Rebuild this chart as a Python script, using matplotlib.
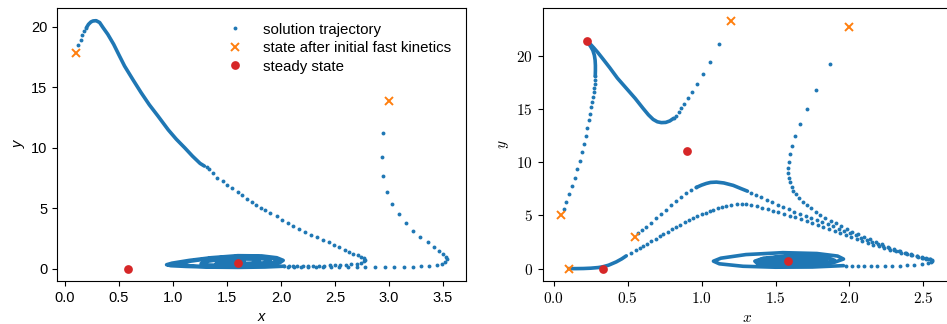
import matplotlib
matplotlib.use("Agg")
import matplotlib.pyplot as plt
from matplotlib.ticker import FuncFormatter

plt.rcParams['font.family'] = ['Liberation Sans', 'DejaVu Sans']
plt.rcParams['mathtext.fontset'] = 'cm'

BLUE = '#1f77b4'
ORANGE = '#ff7f0e'
RED = '#d62728'

# ---------------- left panel ----------------
# trajectory 1 (starts near x=0.1, y=17.8)
l1_start_x = [0.124, 0.143, 0.161, 0.18, 0.198]
l1_start_y = [18.46, 18.9, 19.32, 19.65, 19.92]
l1_dense_x = [0.198, 0.217, 0.24, 0.26, 0.288, 0.32, 0.35, 0.396, 0.45, 0.5, 0.551,
              0.63, 0.705, 0.78, 0.86, 0.955, 1.03, 1.108, 1.18, 1.25, 1.29]
l1_dense_y = [19.92, 20.2, 20.4, 20.48, 20.5, 20.35, 19.95, 19.37, 18.55, 17.65, 16.75,
              15.6, 14.54, 13.55, 12.62, 11.48, 10.7, 9.99, 9.3, 8.7, 8.48]
l1_mid_x = [1.31, 1.33, 1.37, 1.41, 1.46, 1.50, 1.55, 1.60, 1.64, 1.68, 1.73, 1.77, 1.81, 1.85,
            1.90, 1.96, 2.01, 2.06, 2.11, 2.17, 2.22, 2.28, 2.33, 2.39, 2.44, 2.49, 2.54,
            2.59, 2.63, 2.67, 2.71, 2.74, 2.765, 2.775, 2.765, 2.74, 2.70, 2.65]
l1_mid_y = [8.38, 8.23, 7.88, 7.53, 7.22, 6.93, 6.64, 6.35, 6.06, 5.77, 5.52, 5.27, 5.05, 4.83,
            4.57, 4.31, 4.06, 3.81, 3.55, 3.29, 3.04, 2.79, 2.58, 2.38, 2.17, 1.96, 1.76,
            1.57, 1.40, 1.24, 1.10, 0.97, 0.84, 0.72, 0.60, 0.50, 0.41, 0.35]
l1_back_x = [2.60, 2.55, 2.50, 2.45, 2.40, 2.35, 2.30, 2.25, 2.20, 2.15, 2.11, 2.07, 2.03]
l1_back_y = [0.31, 0.29, 0.27, 0.26, 0.25, 0.24, 0.23, 0.22, 0.21, 0.21, 0.2, 0.2, 0.2]
l_spiral_x = [2.03, 1.85, 1.6, 1.35, 1.12, 0.98, 0.94, 0.99, 1.15, 1.35, 1.6, 1.82, 1.96,
              2.02, 1.99, 1.88, 1.7, 1.45, 1.22, 1.08, 1.06, 1.15, 1.35, 1.6, 1.8, 1.93,
              1.97, 1.92, 1.78, 1.55, 1.32, 1.26, 1.33, 1.5, 1.7, 1.86, 1.90, 1.82, 1.65,
              1.45, 1.40, 1.48, 1.62, 1.76, 1.80, 1.72, 1.58, 1.5, 1.55, 1.63, 1.66, 1.6]
l_spiral_y = [0.2, 0.13, 0.1, 0.12, 0.18, 0.24, 0.32, 0.45, 0.68, 0.9, 1.07, 1.05, 0.9,
              0.68, 0.5, 0.33, 0.2, 0.16, 0.2, 0.28, 0.38, 0.6, 0.85, 1.0, 0.98, 0.82,
              0.64, 0.47, 0.32, 0.24, 0.3, 0.42, 0.62, 0.84, 0.93, 0.78, 0.6, 0.45, 0.34,
              0.33, 0.45, 0.62, 0.8, 0.78, 0.6, 0.45, 0.4, 0.5, 0.65, 0.68, 0.55, 0.5]
# trajectory 2 (starts near x=3.0, y=13.9)
l2_x = [2.944, 2.935, 2.947, 2.981, 3.028, 3.089, 3.154, 3.222, 3.29, 3.358, 3.414, 3.464,
        3.50, 3.525, 3.538, 3.52, 3.49, 3.44, 3.37, 3.30, 3.22, 3.14, 3.05, 2.96, 2.87,
        2.78, 2.70, 2.62, 2.54, 2.46, 2.39, 2.32, 2.25, 2.18, 2.12, 2.06]
l2_y = [11.21, 9.22, 7.67, 6.37, 5.38, 4.5, 3.78, 3.15, 2.62, 2.18, 1.8, 1.49,
        1.22, 0.99, 0.78, 0.53, 0.39, 0.31, 0.24, 0.2, 0.17, 0.15, 0.14, 0.13, 0.12,
        0.12, 0.11, 0.11, 0.1, 0.1, 0.1, 0.1, 0.1, 0.1, 0.11, 0.12]
l_fast_x = [0.1, 3.0]
l_fast_y = [17.85, 13.9]
l_steady_x = [0.58, 1.6]
l_steady_y = [0.0, 0.5]

# ---------------- right panel ----------------
ra_x = [0.066, 0.083, 0.104, 0.122, 0.14, 0.158, 0.174, 0.19, 0.203, 0.214, 0.226, 0.235,
        0.244, 0.25, 0.257, 0.264, 0.269, 0.273, 0.275, 0.278, 0.28]
ra_y = [5.59, 6.28, 7.0, 7.78, 8.54, 9.35, 10.14, 10.95, 11.74, 12.49, 13.24, 13.96,
        14.56, 15.16, 15.69, 16.16, 16.63, 17.0, 17.39, 17.77, 18.08]
ra_dense_x = [0.28, 0.281, 0.281, 0.279, 0.274, 0.264, 0.25, 0.235, 0.225]
ra_dense_y = [18.08, 18.6, 19.1, 19.6, 20.05, 20.5, 20.85, 21.15, 21.35]

rb_x = [1.117, 1.056, 1.009, 0.968, 0.934, 0.905, 0.882, 0.862, 0.844, 0.828, 0.81]
rb_y = [21.09, 19.46, 18.27, 17.33, 16.57, 16.0, 15.5, 15.07, 14.69, 14.38, 14.12]
rb_dense_x = [0.81, 0.785, 0.757, 0.727, 0.70, 0.672, 0.64, 0.603, 0.55, 0.49, 0.43,
              0.377, 0.335, 0.298, 0.27, 0.25, 0.235, 0.225]
rb_dense_y = [14.12, 13.88, 13.74, 13.72, 13.8, 14.02, 14.45, 15.07, 16.0, 16.95, 17.9,
              18.9, 19.65, 20.3, 20.75, 21.05, 21.25, 21.35]

rc_x = [1.869, 1.776, 1.711, 1.666, 1.634, 1.611, 1.596, 1.589, 1.584, 1.584, 1.591, 1.60,
        1.611, 1.62, 1.64, 1.66, 1.684, 1.71, 1.74, 1.772, 1.80, 1.835, 1.873, 1.91,
        1.945, 1.984, 2.02, 2.06, 2.099, 2.14, 2.18, 2.219, 2.26, 2.30, 2.336, 2.376,
        2.416, 2.456, 2.49, 2.52, 2.545, 2.56, 2.555, 2.53]
rc_y = [19.24, 16.79, 14.97, 13.56, 12.43, 11.52, 10.73, 10.04, 9.48, 8.98, 8.5, 8.1,
        7.69, 7.34, 6.98, 6.63, 6.28, 5.97, 5.65, 5.34, 5.06, 4.79, 4.52, 4.26,
        4.0, 3.74, 3.48, 3.23, 2.98, 2.74, 2.51, 2.29, 2.07, 1.86, 1.66, 1.49,
        1.32, 1.16, 1.03, 0.93, 0.87, 0.78, 0.62, 0.5]
rc_back_x = [2.49, 2.44, 2.39, 2.34, 2.29, 2.24, 2.19, 2.145, 2.10, 2.06, 2.02, 1.98]
rc_back_y = [0.4, 0.33, 0.3, 0.29, 0.28, 0.28, 0.28, 0.28, 0.28, 0.28, 0.28, 0.28]
r_spiral_x = [1.96, 1.75, 1.5, 1.28, 1.12, 1.08, 1.13, 1.3, 1.55, 1.78, 1.92, 1.96, 1.9, 1.7,
              1.5, 1.38, 1.36, 1.42, 1.58, 1.75, 1.86, 1.9, 1.84, 1.65,
              1.45, 1.38, 1.40, 1.5, 1.68, 1.8, 1.84, 1.78, 1.6,
              1.45, 1.42, 1.48, 1.62, 1.76, 1.8, 1.72, 1.55,
              1.47, 1.5, 1.62, 1.72, 1.74, 1.66, 1.55,
              1.52, 1.58, 1.66, 1.68, 1.62, 1.57, 1.585]
r_spiral_y = [0.28, 0.15, 0.13, 0.22, 0.45, 0.7, 0.98, 1.32, 1.5, 1.42, 1.18, 0.9, 0.6, 0.35,
              0.3, 0.45, 0.7, 0.98, 1.18, 1.15, 0.98, 0.78, 0.55, 0.38,
              0.42, 0.6, 0.85, 1.05, 1.1, 0.98, 0.78, 0.55, 0.42,
              0.5, 0.7, 0.92, 1.02, 0.92, 0.75, 0.55, 0.5,
              0.62, 0.85, 0.95, 0.85, 0.7, 0.58, 0.6,
              0.72, 0.85, 0.85, 0.75, 0.68, 0.72, 0.75]

rd_x = [0.569, 0.597, 0.625, 0.66, 0.693, 0.727, 0.761, 0.795, 0.828, 0.862, 0.896, 0.93, 0.964]
rd_y = [3.3, 3.6, 3.92, 4.32, 4.71, 5.12, 5.52, 5.95, 6.37, 6.72, 7.06, 7.35, 7.63]
rd_dense_x = [0.964, 1.0, 1.031, 1.06, 1.10, 1.15, 1.214, 1.27, 1.31]
rd_dense_y = [7.63, 7.85, 8.0, 8.1, 8.13, 8.05, 7.82, 7.5, 7.28]
rd_tail_x = [1.335, 1.365, 1.40, 1.44, 1.475, 1.515, 1.552, 1.59, 1.628, 1.666, 1.703, 1.741,
             1.779, 1.816, 1.853, 1.891, 1.929, 1.966, 2.004, 2.042, 2.08, 2.117, 2.155,
             2.192, 2.23, 2.268, 2.305, 2.343, 2.38, 2.418, 2.456, 2.49, 2.52, 2.546]
rd_tail_y = [7.14, 6.95, 6.72, 6.47, 6.24, 6.0, 5.77, 5.56, 5.35, 5.15, 4.96, 4.77,
             4.58, 4.38, 4.17, 3.96, 3.75, 3.54, 3.33, 3.12, 2.91, 2.7, 2.51,
             2.32, 2.13, 1.96, 1.79, 1.63, 1.48, 1.33, 1.19, 1.07, 0.97, 0.88]

re_dense_x = [0.1, 0.15, 0.2, 0.25, 0.3, 0.33, 0.37, 0.422, 0.46, 0.49]
re_dense_y = [0.0, 0.0, 0.01, 0.04, 0.1, 0.17, 0.32, 0.63, 0.92, 1.2]
re_x = [0.52, 0.557, 0.58, 0.603, 0.63, 0.66, 0.69, 0.715, 0.74, 0.77, 0.80, 0.828, 0.855,
        0.885, 0.913, 0.941, 0.97, 1.0, 1.027, 1.054, 1.08, 1.11, 1.14, 1.167, 1.20, 1.237,
        1.27, 1.30, 1.337, 1.372, 1.41, 1.446, 1.485, 1.52, 1.56, 1.598, 1.635, 1.673,
        1.711, 1.75, 1.787, 1.824, 1.86, 1.9, 1.937, 1.975, 2.012, 2.049, 2.087, 2.124,
        2.162, 2.2, 2.237, 2.275, 2.313, 2.35, 2.388, 2.425, 2.463, 2.501, 2.53, 2.557]
re_y = [1.45, 1.73, 1.95, 2.13, 2.35, 2.6, 2.82, 3.04, 3.26, 3.48, 3.7, 3.92, 4.13,
        4.35, 4.57, 4.77, 4.95, 5.12, 5.27, 5.4, 5.53, 5.66, 5.79, 5.9, 5.97, 6.03,
        6.05, 6.04, 5.95, 5.84, 5.72, 5.6, 5.46, 5.3, 5.15, 4.99, 4.82, 4.64,
        4.46, 4.27, 4.08, 3.89, 3.7, 3.52, 3.33, 3.15, 2.97, 2.79, 2.61, 2.43,
        2.26, 2.1, 1.94, 1.79, 1.65, 1.51, 1.38, 1.25, 1.12, 1.0, 0.88, 0.76]

r_fast_x = [0.05, 0.55, 0.1, 1.2, 2.0]
r_fast_y = [5.0, 3.0, 0.0, 23.3, 22.75]
r_steady_x = [0.225, 0.9, 0.33, 1.585]
r_steady_y = [21.35, 11.05, 0.0, 0.75]


def dots(ax, x, y, label=None):
    ax.plot(x, y, 'o', color=BLUE, ms=2.8, mew=0, ls='none', label=label, zorder=2)


def dense(ax, x, y):
    ax.plot(x, y, '-', color=BLUE, lw=2.6, solid_capstyle='round',
            solid_joinstyle='round', zorder=2)


fig = plt.figure(figsize=(9.47, 3.24), dpi=100)
ax1 = fig.add_axes([0.0605, 0.1327, 0.4313, 0.8417])
ax2 = fig.add_axes([0.5731, 0.1327, 0.4308, 0.8417])

# left
dots(ax1, l1_start_x, l1_start_y, label='solution trajectory')
dense(ax1, l1_dense_x, l1_dense_y)
dots(ax1, l1_mid_x, l1_mid_y)
dots(ax1, l1_back_x, l1_back_y)
dense(ax1, l_spiral_x, l_spiral_y)
dots(ax1, l2_x, l2_y)
ax1.plot(l_fast_x, l_fast_y, 'x', color=ORANGE, ms=5.5, mew=1.4, ls='none',
         label='state after initial fast kinetics', zorder=3)
ax1.plot(l_steady_x, l_steady_y, 'o', color=RED, ms=6.3, mew=0, ls='none',
         label='steady state', zorder=4)
ax1.legend(loc='upper right', frameon=False, fontsize=10.8, labelspacing=0.3,
           borderaxespad=0.55, handletextpad=0.9)
ax1.set_xlabel('x', fontstyle='italic', fontsize=10.5)
ax1.set_ylabel('y', fontstyle='italic', fontsize=10.5)
ax1.tick_params(labelsize=10.5)

# right
dots(ax2, ra_x, ra_y)
dense(ax2, ra_dense_x, ra_dense_y)
dots(ax2, rb_x, rb_y)
dense(ax2, rb_dense_x, rb_dense_y)
dots(ax2, rc_x, rc_y)
dots(ax2, rc_back_x, rc_back_y)
dense(ax2, r_spiral_x, r_spiral_y)
dots(ax2, rd_x, rd_y)
dense(ax2, rd_dense_x, rd_dense_y)
dots(ax2, rd_tail_x, rd_tail_y)
dense(ax2, re_dense_x, re_dense_y)
dots(ax2, re_x, re_y)
ax2.plot(r_fast_x, r_fast_y, 'x', color=ORANGE, ms=5.5, mew=1.4, ls='none', zorder=3)
ax2.plot(r_steady_x, r_steady_y, 'o', color=RED, ms=6.3, mew=0, ls='none', zorder=4)
ax2.xaxis.set_major_formatter(FuncFormatter(lambda v, p: '$%.1f$' % v))
ax2.yaxis.set_major_formatter(FuncFormatter(lambda v, p: '$%d$' % round(v)))
ax2.set_xlabel('$x$', fontsize=11)
ax2.set_ylabel('$y$', fontsize=11)
ax2.tick_params(labelsize=11)

fig.savefig('out.png', dpi=100)
